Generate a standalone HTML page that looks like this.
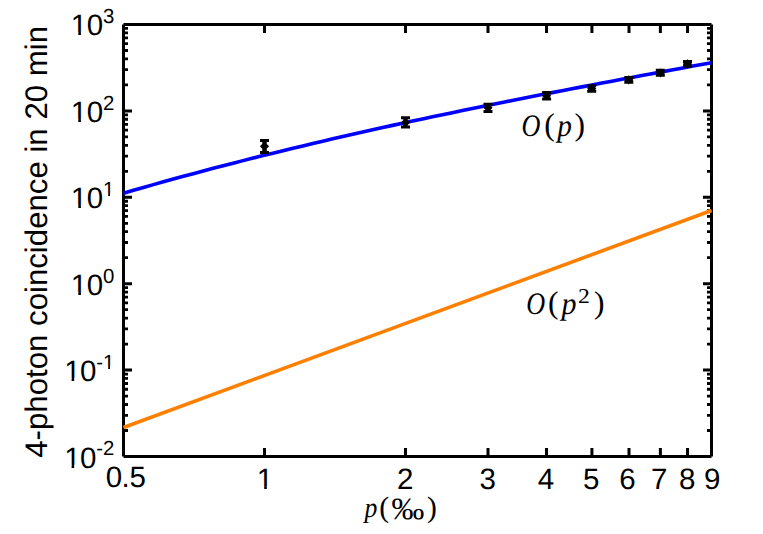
<!DOCTYPE html><html><head><meta charset="utf-8"><title>4-photon coincidence</title><style>html,body{margin:0;padding:0;background:#fff;width:763px;height:534px;overflow:hidden}svg{display:block}</style></head><body>
<svg width="763" height="534" viewBox="0 0 763 534">
<path fill="#000" d="M125,429.09h3v2.8h-3zM707,429.09h3v2.8h-3zM125,413.88h3v2.8h-3zM707,413.88h3v2.8h-3zM125,403.08h3v2.8h-3zM707,403.08h3v2.8h-3zM125,394.71h3v2.8h-3zM707,394.71h3v2.8h-3zM125,387.87h3v2.8h-3zM707,387.87h3v2.8h-3zM125,382.08h3v2.8h-3zM707,382.08h3v2.8h-3zM125,377.07h3v2.8h-3zM707,377.07h3v2.8h-3zM125,372.65h3v2.8h-3zM707,372.65h3v2.8h-3zM125,368.60h7v3h-7zM703,368.60h7v3h-7zM125,342.69h3v2.8h-3zM707,342.69h3v2.8h-3zM125,327.48h3v2.8h-3zM707,327.48h3v2.8h-3zM125,316.68h3v2.8h-3zM707,316.68h3v2.8h-3zM125,308.31h3v2.8h-3zM707,308.31h3v2.8h-3zM125,301.47h3v2.8h-3zM707,301.47h3v2.8h-3zM125,295.68h3v2.8h-3zM707,295.68h3v2.8h-3zM125,290.67h3v2.8h-3zM707,290.67h3v2.8h-3zM125,286.25h3v2.8h-3zM707,286.25h3v2.8h-3zM125,282.20h7v3h-7zM703,282.20h7v3h-7zM125,256.29h3v2.8h-3zM707,256.29h3v2.8h-3zM125,241.08h3v2.8h-3zM707,241.08h3v2.8h-3zM125,230.28h3v2.8h-3zM707,230.28h3v2.8h-3zM125,221.91h3v2.8h-3zM707,221.91h3v2.8h-3zM125,215.07h3v2.8h-3zM707,215.07h3v2.8h-3zM125,209.28h3v2.8h-3zM707,209.28h3v2.8h-3zM125,204.27h3v2.8h-3zM707,204.27h3v2.8h-3zM125,199.85h3v2.8h-3zM707,199.85h3v2.8h-3zM125,195.80h7v3h-7zM703,195.80h7v3h-7zM125,169.89h3v2.8h-3zM707,169.89h3v2.8h-3zM125,154.68h3v2.8h-3zM707,154.68h3v2.8h-3zM125,143.88h3v2.8h-3zM707,143.88h3v2.8h-3zM125,135.51h3v2.8h-3zM707,135.51h3v2.8h-3zM125,128.67h3v2.8h-3zM707,128.67h3v2.8h-3zM125,122.88h3v2.8h-3zM707,122.88h3v2.8h-3zM125,117.87h3v2.8h-3zM707,117.87h3v2.8h-3zM125,113.45h3v2.8h-3zM707,113.45h3v2.8h-3zM125,109.40h7v3h-7zM703,109.40h7v3h-7zM125,83.49h3v2.8h-3zM707,83.49h3v2.8h-3zM125,68.28h3v2.8h-3zM707,68.28h3v2.8h-3zM125,57.48h3v2.8h-3zM707,57.48h3v2.8h-3zM125,49.11h3v2.8h-3zM707,49.11h3v2.8h-3zM125,42.27h3v2.8h-3zM707,42.27h3v2.8h-3zM125,36.48h3v2.8h-3zM707,36.48h3v2.8h-3zM125,31.47h3v2.8h-3zM707,31.47h3v2.8h-3zM125,27.05h3v2.8h-3zM707,27.05h3v2.8h-3zM263.01,448h3v7h-3zM263.01,26h3v7h-3zM404.02,448h3v7h-3zM404.02,26h3v7h-3zM486.50,448h3v7h-3zM486.50,26h3v7h-3zM545.03,448h3v7h-3zM545.03,26h3v7h-3zM590.42,448h3v7h-3zM590.42,26h3v7h-3zM627.51,448h3v7h-3zM627.51,26h3v7h-3zM658.87,448h3v7h-3zM658.87,26h3v7h-3zM686.04,448h3v7h-3zM686.04,26h3v7h-3z"/>
<path d="M123.5,24.5H711.5M123.5,456.5H711.5M123.5,24.5V456.5M711.5,24.5V456.5" fill="none" stroke="#000" stroke-width="3" stroke-linecap="butt"/>
<line x1="123.5" y1="427.5" x2="711.5" y2="210.5" stroke="#ff8000" stroke-width="3.6"/>
<path d="M123.50,193.16 L133.47,190.28 L143.43,187.43 L153.40,184.61 L163.36,181.83 L173.33,179.08 L183.30,176.35 L193.26,173.66 L203.23,171.00 L213.19,168.36 L223.16,165.76 L233.13,163.18 L243.09,160.63 L253.06,158.11 L263.03,155.61 L272.99,153.14 L282.96,150.70 L292.92,148.28 L302.89,145.89 L312.86,143.52 L322.82,141.17 L332.79,138.84 L342.75,136.54 L352.72,134.26 L362.69,132.00 L372.65,129.76 L382.62,127.56 L392.58,125.37 L402.55,123.20 L412.52,121.05 L422.48,118.92 L432.45,116.81 L442.42,114.72 L452.38,112.64 L462.35,110.57 L472.31,108.53 L482.28,106.49 L492.25,104.48 L502.21,102.47 L512.18,100.48 L522.14,98.50 L532.11,96.54 L542.08,94.59 L552.04,92.64 L562.01,90.71 L571.97,88.79 L581.94,86.88 L591.91,84.98 L601.87,83.08 L611.84,81.20 L621.81,79.32 L631.77,77.45 L641.74,75.59 L651.70,73.73 L661.67,71.88 L671.64,70.03 L681.60,68.19 L691.57,66.35 L701.53,64.51 L711.50,62.68" fill="none" stroke="#0000ff" stroke-width="3.6"/>
<path fill="#000" d="M260.00,139.00h9.0v3.0h-9.0zM260.00,151.00h9.0v3.0h-9.0zM262.25,139.00h4.5v15.00h-4.5zM259.90,146.30L264.50,141.70L269.10,146.30L264.50,150.90zM401.00,116.20h9.0v3.0h-9.0zM401.00,125.60h9.0v3.0h-9.0zM403.25,116.20h4.5v12.40h-4.5zM400.90,122.60L405.50,118.00L410.10,122.60L405.50,127.20zM483.50,102.80h9.0v3.0h-9.0zM483.50,109.90h9.0v3.0h-9.0zM485.75,102.80h4.5v10.10h-4.5zM483.40,107.80L488.00,103.20L492.60,107.80L488.00,112.40zM542.10,91.00h9.0v3.0h-9.0zM542.10,97.50h9.0v3.0h-9.0zM544.35,91.00h4.5v9.50h-4.5zM542.00,95.70L546.60,91.10L551.20,95.70L546.60,100.30zM587.20,84.30h9.0v3.0h-9.0zM587.20,89.70h9.0v3.0h-9.0zM589.45,84.30h4.5v8.40h-4.5zM587.10,88.50L591.70,83.90L596.30,88.50L591.70,93.10zM624.30,76.00h9.0v3.0h-9.0zM624.30,80.80h9.0v3.0h-9.0zM626.55,76.00h4.5v7.80h-4.5zM624.20,79.90L628.80,75.30L633.40,79.90L628.80,84.50zM655.80,68.80h9.0v3.0h-9.0zM655.80,73.70h9.0v3.0h-9.0zM658.05,68.80h4.5v7.90h-4.5zM655.70,72.80L660.30,68.20L664.90,72.80L660.30,77.40zM683.00,60.10h9.0v3.0h-9.0zM683.00,64.70h9.0v3.0h-9.0zM685.25,60.10h4.5v7.60h-4.5zM682.90,63.90L687.50,59.30L692.10,63.90L687.50,68.50z"/>
<defs><clipPath id="c5" clipPathUnits="userSpaceOnUse"><path clip-rule="evenodd" d="M0,0H763V534H0ZM71.92,32.10H78.29V36.00H71.92ZM80.90,32.10H87.44V36.00H80.90Z"/></clipPath><clipPath id="c4" clipPathUnits="userSpaceOnUse"><path clip-rule="evenodd" d="M0,0H763V534H0ZM71.92,119.10H78.29V123.00H71.92ZM80.90,119.10H87.44V123.00H80.90Z"/></clipPath><clipPath id="c3" clipPathUnits="userSpaceOnUse"><path clip-rule="evenodd" d="M0,0H763V534H0ZM71.92,205.10H78.29V209.00H71.92ZM80.90,205.10H87.44V209.00H80.90ZM103.42,193.78H108.20V197.00H103.42ZM110.00,193.78H115.02V197.00H110.00Z"/></clipPath><clipPath id="c2" clipPathUnits="userSpaceOnUse"><path clip-rule="evenodd" d="M0,0H763V534H0ZM71.92,292.10H78.29V296.00H71.92ZM80.90,292.10H87.44V296.00H80.90Z"/></clipPath><clipPath id="c1" clipPathUnits="userSpaceOnUse"><path clip-rule="evenodd" d="M0,0H763V534H0ZM65.22,378.10H71.59V382.00H65.22ZM74.20,378.10H80.74V382.00H74.20ZM103.42,366.78H108.20V370.00H103.42ZM110.00,366.78H115.02V370.00H110.00Z"/></clipPath><clipPath id="c0" clipPathUnits="userSpaceOnUse"><path clip-rule="evenodd" d="M0,0H763V534H0ZM65.22,465.10H71.59V469.00H65.22ZM74.20,465.10H80.74V469.00H74.20Z"/></clipPath><clipPath id="cx1" clipPathUnits="userSpaceOnUse"><path clip-rule="evenodd" d="M0,0H763V534H0ZM257.82,486.10H264.19V490.00H257.82ZM266.80,486.10H273.34V490.00H266.80Z"/></clipPath></defs>
<g fill="#000" font-family="&quot;Liberation Sans&quot;, sans-serif" text-rendering="geometricPrecision"><text font-size="29.5" clip-path="url(#c5)"><tspan x="70.87" y="35">1</tspan><tspan x="86.75">0</tspan><tspan x="102.99" y="23" font-size="20.4">3</tspan></text><text font-size="29.5" clip-path="url(#c4)"><tspan x="70.87" y="122">1</tspan><tspan x="86.75">0</tspan><tspan x="102.93" y="110" font-size="20.4">2</tspan></text><text font-size="29.5" clip-path="url(#c3)"><tspan x="70.87" y="208">1</tspan><tspan x="86.75">0</tspan><tspan x="103.07" y="196" font-size="20.4">1</tspan></text><text font-size="29.5" clip-path="url(#c2)"><tspan x="70.87" y="295">1</tspan><tspan x="86.75">0</tspan><tspan x="102.93" y="283" font-size="20.4">0</tspan></text><text font-size="29.5" clip-path="url(#c1)"><tspan x="64.17" y="381">1</tspan><tspan x="80.05">0</tspan><tspan x="96.20" y="369" font-size="20.4">-</tspan><tspan x="103.07" y="369" font-size="20.4">1</tspan></text><text font-size="29.5" clip-path="url(#c0)"><tspan x="64.17" y="468">1</tspan><tspan x="80.05">0</tspan><tspan x="96.20" y="455" font-size="20.4">-</tspan><tspan x="102.93" y="455" font-size="20.4">2</tspan></text><text x="256.77" y="489" font-size="29.5" clip-path="url(#cx1)">1</text><text y="487" font-size="29.5"><tspan x="105.70">0</tspan><tspan x="121.40">.</tspan><tspan x="129.53">5</tspan></text><text x="397.05" y="489" font-size="29.5">2</text><text x="479.53" y="489" font-size="29.5">3</text><text x="537.79" y="489" font-size="29.5">4</text><text x="582.93" y="489" font-size="29.5">5</text><text x="619.35" y="489" font-size="29.5">6</text><text x="650.88" y="489" font-size="29.5">7</text><text x="679.00" y="489" font-size="29.5">8</text><text x="704.10" y="489" font-size="29.5">9</text></g>
<text transform="translate(47,457.72) rotate(-90)" fill="#000" font-size="31.2" font-family="&quot;Liberation Sans&quot;, sans-serif" text-rendering="geometricPrecision">4-photon coincidence in 20 min</text>
<g fill="#000" font-size="31.5" font-family="&quot;Liberation Serif&quot;, serif" text-rendering="geometricPrecision"><text transform="translate(521.6,136) scale(0.83,1)" font-style="italic">O</text><text x="544.3" y="135">(</text><text transform="translate(557.3,136) scale(0.93,1)" font-style="italic">p</text><text x="574.5" y="135">)</text><text transform="translate(526.2,314) scale(0.83,1)" font-style="italic">O</text><text x="548.0" y="313">(</text><text transform="translate(561.4,314) scale(0.95,1)" font-style="italic">p</text><text transform="translate(577.9,303) scale(1.13,1)" font-size="21">2</text><text x="593.9" y="313">)</text><text transform="translate(364.6,517) scale(0.9,1)" font-style="italic" font-size="28.5">p</text><text x="379.2" y="517" font-size="29.6">(</text><text transform="translate(391.6,519.3) scale(1.15,1.08)" font-size="28.5">‰</text><text x="426.9" y="517" font-size="29.6">)</text></g>
</svg></body></html>
